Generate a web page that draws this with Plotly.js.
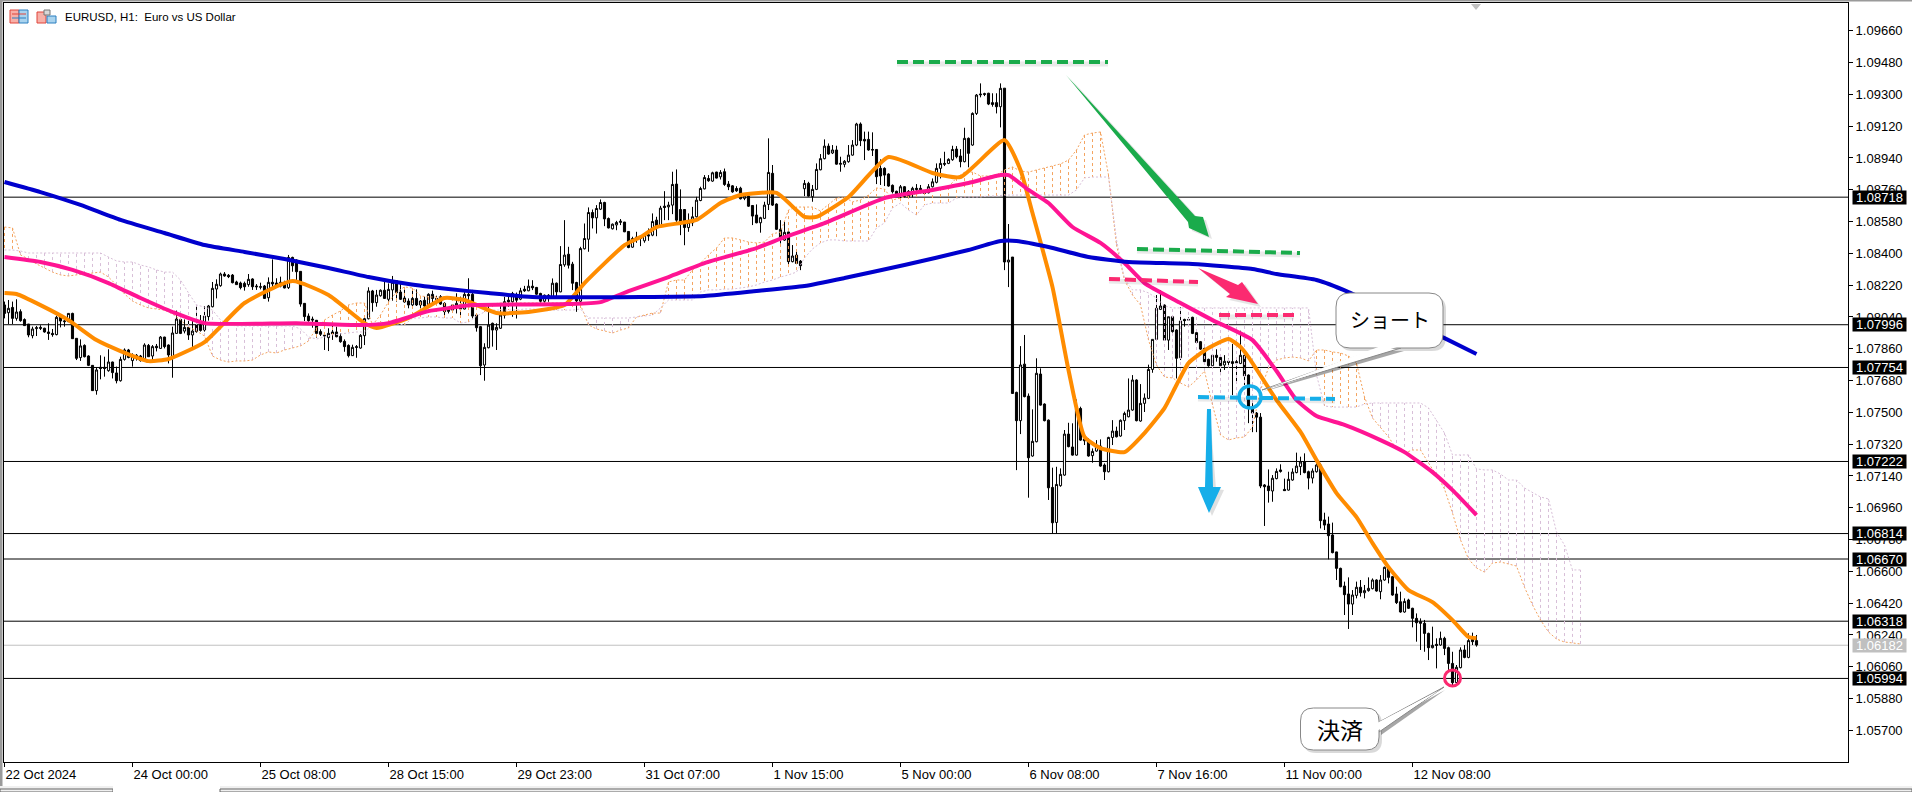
<!DOCTYPE html>
<html><head><meta charset="utf-8">
<script src="https://cdn.plot.ly/plotly-3.0.1.min.js"></script>
<style>html,body{margin:0;padding:0;background:#fff;overflow:hidden}#c{width:1912px;height:792px}</style>
</head><body><div id="c"></div>
<script>
// All prices in points (1e-5). Bar index = hours of trading since the left edge.
const highs=[108127,108136,108127,108140,108083,108032,108000,107985,107989,107993,
107979,108004,107972,108047,108051,108032,108060,108064,107919,107913,
107885,107823,107768,107755,107823,107815,107857,107787,107759,107815,
107862,107859,107834,107830,107825,107891,107887,107881,107887,107932,
107928,107885,107985,108076,108051,108026,108032,108034,108108,108051,
108102,108108,108238,108253,108291,108294,108283,108283,108245,108240,
108240,108283,108259,108226,108234,108221,108264,108366,108259,108268,
108245,108391,108381,108366,108298,108117,108060,108042,108023,107970,
107938,107976,108013,107985,107947,107913,107885,107883,107881,107943,
108042,108208,108193,108193,108196,108253,108230,108272,108249,108234,
108208,108145,108193,108196,108136,108155,108174,108189,108160,108164,
108123,108089,108108,108174,108155,108196,108259,108193,108057,107989,
107891,108117,108008,108004,108108,108154,108154,108182,108178,108205,
108216,108252,108248,108210,108177,108167,108169,108258,108235,108441,
108588,108437,108352,108239,108437,108569,108660,108648,108673,108705,
108692,108603,108569,108584,108594,108578,108526,108494,108522,108497,
108512,108541,108626,108607,108669,108752,108692,108862,108875,108762,
108650,108626,108663,108720,108777,108843,108843,108862,108862,108871,
108880,108809,108786,108780,108777,108735,108729,108673,108677,108607,
108692,109051,108900,108683,108588,108579,108522,108447,108409,108362,
108815,108805,108787,108909,108962,109045,109022,109013,109009,108947,
108928,109013,109041,109139,109141,109089,109089,109085,108990,108932,
108887,108853,108790,108755,108787,108781,108758,108777,108792,108787,
108758,108792,108824,108909,108938,108975,108938,109009,109007,108990,
109111,109056,109198,109302,109362,109309,109309,109306,109306,109362,
109335,108566,108379,107617,107875,107938,107607,107517,107806,107749,
107551,107460,107187,107192,107183,107400,107441,107438,107573,107532,
107362,107353,107296,107343,107347,107211,107362,107456,107419,107460,
107504,107692,107711,107687,107660,107607,107770,107913,108164,108192,
108111,108041,108045,107970,108094,108030,108038,108041,107953,107904,
107866,107804,107824,107857,107815,107824,107804,107887,107796,107962,
107826,107715,107552,107502,107496,107094,107177,107145,107183,107206,
107125,107164,107183,107272,107249,107268,107170,107183,107211,107211,
106932,106910,106876,106711,106621,106542,106566,106494,106542,106551,
106523,106566,106560,106555,106579,106627,106627,106574,106513,106485,
106447,106445,106394,106362,106334,106325,106253,106287,106221,106259,
106230,106174,106145,106070,106170,106183,106249,106253,106240];
const bodyTops=[108108,108089,108094,108068,108070,108025,108000,107972,107979,107981,
107976,107955,107947,108038,108045,108017,108060,108060,107919,107876,
107879,107819,107766,107740,107755,107755,107785,107785,107723,107800,
107853,107853,107819,107823,107819,107881,107879,107872,107874,107926,
107926,107881,107949,108028,108026,107981,107981,107960,107994,107994,
108045,108102,108202,108225,108283,108283,108276,108277,108238,108232,
108230,108253,108255,108215,108211,108215,108236,108236,108232,108236,
108234,108377,108377,108362,108298,108117,108045,108028,108021,107957,
107936,107947,107955,107955,107930,107902,107879,107868,107872,107936,
108030,108187,108187,108164,108191,108191,108196,108236,108245,108181,
108147,108130,108145,108145,108130,108134,108168,108168,108145,108155,
108117,108081,108108,108117,108108,108168,108168,108168,108051,107985,
107868,107994,108004,107981,108051,108126,108135,108173,108167,108188,
108197,108214,108214,108207,108173,108163,108163,108231,108231,108337,
108390,108395,108339,108235,108427,108484,108631,108631,108654,108688,
108688,108597,108565,108575,108582,108577,108524,108484,108492,108490,
108509,108505,108580,108588,108656,108667,108673,108790,108792,108648,
108648,108575,108607,108701,108767,108829,108824,108856,108860,108858,
108862,108792,108782,108767,108769,108724,108724,108671,108617,108602,
108673,108858,108853,108679,108536,108519,108521,108385,108390,108356,
108796,108796,108762,108875,108936,109007,109007,108985,108985,108909,
108921,108956,109013,109132,109132,109045,109045,108988,108988,108881,
108881,108849,108785,108751,108777,108777,108751,108768,108768,108768,
108749,108777,108805,108881,108909,108909,108932,108988,108990,108951,
109051,109051,109192,109296,109302,109304,109306,109253,109253,109334,
109335,108362,108379,107613,107768,107773,107592,107336,107721,107717,
107547,107456,107075,107092,107149,107377,107377,107304,107522,107522,
107349,107343,107279,107309,107309,107202,107358,107394,107394,107455,
107494,107513,107683,107683,107551,107581,107743,107913,108089,108102,
108107,108041,108041,107966,108017,108026,108026,108038,107951,107900,
107862,107800,107823,107823,107811,107789,107789,107787,107787,107823,
107823,107711,107530,107496,107473,107089,107083,107127,107166,107174,
107064,107121,107162,107196,107219,107219,107164,107168,107202,107202,
106891,106868,106806,106710,106617,106517,106472,106466,106510,106510,
106491,106504,106551,106551,106551,106623,106623,106570,106472,106428,
106430,106438,106391,106334,106315,106306,106249,106181,106187,106221,
106221,106168,106079,106057,106155,106155,106208,106215,106208];
const bodyBottoms=[108060,108064,108032,108032,108019,107991,107938,107934,107974,107976,
107955,107947,107940,107940,108017,108013,108013,107917,107806,107810,
107815,107766,107623,107623,107748,107748,107736,107725,107679,107679,
107800,107811,107793,107815,107793,107793,107815,107819,107866,107862,
107872,107825,107815,107947,107947,107960,107938,107938,107957,107964,
107966,108042,108098,108198,108217,108272,108268,108234,108223,108206,
108211,108223,108211,108211,108208,108145,108149,108227,108215,108215,
108204,108206,108330,108296,108113,108042,108019,108023,107947,107942,
107932,107923,107945,107928,107900,107872,107821,107821,107868,107864,
107934,108030,108121,108121,108160,108145,108140,108193,108177,108140,
108125,108108,108108,108108,108108,108102,108111,108145,108140,108113,
108070,108072,108079,108104,108085,108085,108160,108045,107979,107764,
107768,107866,107966,107966,107976,108050,108126,108126,108135,108141,
108188,108188,108205,108169,108129,108129,108154,108150,108182,108182,
108335,108333,108231,108131,108129,108426,108480,108601,108601,108650,
108595,108544,108539,108561,108575,108522,108433,108435,108480,108484,
108471,108499,108503,108554,108554,108660,108663,108673,108588,108573,
108546,108546,108573,108607,108699,108765,108811,108809,108826,108833,
108790,108777,108748,108754,108709,108711,108667,108611,108573,108573,
108598,108677,108673,108536,108479,108475,108353,108353,108343,108330,
108766,108724,108721,108762,108873,108936,108962,108968,108905,108904,
108904,108919,108956,109013,109038,109036,108985,108985,108834,108838,
108843,108781,108749,108730,108730,108721,108721,108745,108762,108745,
108739,108743,108777,108802,108881,108905,108909,108930,108947,108919,
108919,108966,109013,109192,109298,109300,109245,109243,109230,109230,
108351,108351,107607,107453,107453,107589,107243,107253,107334,107541,
107453,107073,106875,106877,107085,107145,107306,107258,107258,107343,
107339,107253,107255,107281,107196,107164,107164,107358,107362,107366,
107453,107475,107513,107453,107451,107551,107579,107743,107913,108083,
107909,107909,107957,107806,107809,108019,108023,107947,107896,107858,
107787,107764,107764,107811,107764,107768,107783,107777,107781,107777,
107707,107530,107496,107473,107083,107079,107057,107055,107125,107166,
107057,107060,107117,107159,107193,107159,107128,107128,107164,106887,
106862,106802,106706,106617,106513,106468,106415,106415,106464,106479,
106479,106491,106502,106489,106485,106551,106566,106466,106423,106370,
106370,106391,106334,106309,106306,106249,106168,106168,106181,106183,
106164,106079,105970,105970,106055,106113,106113,106202,106183];
const lows=[108032,108000,108000,108019,108013,107989,107925,107919,107932,107966,
107951,107910,107928,107936,107981,107985,108013,107917,107796,107791,
107811,107762,107621,107600,107687,107702,107730,107692,107664,107674,
107793,107806,107759,107793,107787,107787,107815,107796,107845,107860,
107862,107777,107696,107947,107943,107947,107910,107868,107951,107957,
107957,108019,108094,108145,108211,108268,108260,108230,108221,108196,
108189,108211,108193,108193,108196,108142,108127,108208,108208,108208,
108202,108198,108296,108245,108098,108017,108013,107979,107923,107932,
107853,107847,107910,107925,107894,107843,107811,107819,107809,107860,
107881,108026,108070,108098,108155,108142,108127,108132,108127,108136,
108121,108089,108098,108102,108070,108098,108108,108108,108108,108108,
108051,108060,108076,108060,108047,108083,108117,108032,107957,107711,
107679,107862,107872,107853,107972,108031,108097,108041,108031,108135,
108182,108186,108192,108165,108120,108116,108126,108146,108154,108180,
108324,108314,108192,108069,108097,108422,108409,108541,108512,108645,
108554,108541,108535,108531,108560,108520,108429,108431,108460,108441,
108460,108471,108497,108497,108550,108588,108588,108622,108578,108503,
108446,108522,108554,108603,108695,108762,108805,108805,108824,108818,
108782,108758,108743,108748,108705,108701,108663,108560,108570,108517,
108594,108645,108668,108532,108456,108471,108328,108349,108339,108305,
108724,108721,108692,108758,108870,108932,108958,108962,108902,108862,
108887,108913,108953,109007,109007,108928,108981,108951,108792,108787,
108781,108777,108739,108726,108711,108717,108717,108717,108739,108739,
108730,108739,108773,108796,108824,108894,108905,108924,108938,108887,
108915,108887,109009,109183,109283,109290,109239,109230,109192,109113,
108305,108209,107604,107173,107377,107585,107017,107249,107330,107538,
107449,107004,106815,106815,107079,107141,107302,107255,107255,107339,
107315,107249,107215,107277,107192,107117,107160,107315,107358,107362,
107400,107472,107509,107449,107447,107502,107575,107724,107909,108079,
107906,107853,107951,107692,107796,107985,108019,107943,107890,107853,
107781,107758,107755,107787,107711,107740,107762,107598,107664,107773,
107655,107439,107388,107388,107071,106857,106989,106994,107121,107159,
107055,107057,107113,107155,107145,107155,107064,107098,107159,106843,
106834,106668,106702,106551,106510,106353,106274,106353,106447,106457,
106447,106485,106498,106485,106442,106547,106532,106462,106415,106366,
106366,106387,106283,106202,106155,106145,106098,106164,106051,106179,
106126,106038,105947,105966,106051,106108,106108,106183,106174];
const upBars=[1,3,7,8,13,15,16,19,23,26,29,30,32,35,37,39,42,43,45,47,50,51,52,53,54,61,64,66,69,71,80,81,87,89,90,91,93,94,96,97,102,104,106,112,113,115,120,121,123,124,127,129,131,135,137,139,140,144,145,146,148,149,152,153,154,157,160,162,164,166,167,171,172,173,174,175,177,179,185,189,190,191,195,197,200,202,203,204,205,207,209,210,211,212,213,224,227,231,232,233,234,236,237,240,242,243,249,251,254,257,258,263,264,265,268,272,273,276,277,279,280,281,282,284,285,286,287,288,289,291,294,302,305,309,317,318,321,322,323,324,327,328,337,338,340,341,342,344,345,350,357,359,363,364,366];

const slowBars=[0,9,19,29,40,50,60,70,81,91,101,111,121,132,159,175,188,200,210,225,241,249,253,261,271,281,297,312,318,328,336,360,368];
const slowMA=[108804,108747,108674,108589,108515,108447,108408,108368,108317,108266,108226,108198,108175,108153,108153,108159,108187,108215,108260,108334,108419,108470,108470,108436,108379,108351,108340,108311,108283,108249,108181,107920,107830];
const midBars=[0,9,17,26,34,42,50,73,89,96,106,111,117,141,149,156,166,175,188,195,205,220,232,241,249,251,256,261,267,274,280,285,294,302,312,318,323,328,335,344,350,357,362,368];
const midMA=[108379,108351,108306,108232,108147,108068,108005,108005,107994,108005,108073,108090,108107,108113,108124,108186,108266,108345,108430,108492,108571,108713,108759,108798,108843,108843,108759,108685,108549,108459,108345,108232,108119,108022,107909,107734,107570,107479,107429,107343,107275,107162,107060,106919];
const fastBars=[0,3,9,16,23,29,36,41,50,60,72,81,90,93,101,110,115,123,131,140,145,155,159,163,173,179,184,193,200,203,211,221,232,239,250,254,257,262,266,270,274,280,285,290,293,296,301,306,309,311,318,324,328,333,338,342,346,351,357,362,366,368];
const fastMA=[108176,108170,108107,108022,107909,107847,107790,107802,107898,108119,108243,108164,108005,107977,108034,108147,108136,108062,108068,108107,108232,108447,108492,108549,108589,108685,108730,108742,108606,108606,108719,108945,108855,108832,109041,108872,108628,108209,107740,107361,107298,107275,107383,107524,107655,107779,107864,107915,107870,107813,107570,107389,107230,107043,106907,106760,106624,106494,106426,106324,106228,106222];

// Ichimoku spans, one reading every second bar
const spanA=[108549,108544,108391,108368,108340,108317,108294,108278,108272,108278,108283,108289,108294,108266,108221,108170,108130,108108,108091,108085,108079,108057,108023,107983,107961,107932,107819,107796,107785,107791,107791,107796,107825,107842,107836,107853,107864,107876,107904,107978,108023,108051,108074,108108,108119,108119,107995,108051,108125,108181,108210,108204,108159,108153,108153,108153,108147,108119,108096,108096,108108,108113,108119,108119,108119,108119,108119,108119,108119,108119,108119,108113,108108,107995,107972,107961,107949,107966,107978,108040,108051,108062,108062,108238,108249,108249,108306,108345,108391,108430,108487,108487,108476,108464,108459,108464,108510,108521,108645,108662,108662,108662,108640,108674,108713,108719,108691,108702,108730,108770,108764,108702,108713,108725,108736,108747,108764,108770,108776,108827,108860,108860,108838,108838,108844,108872,108889,108866,108860,108872,108883,108894,108906,108928,108985,109070,109081,109087,108844,108447,108249,108164,108108,107910,107768,107700,107695,107666,107644,107683,107734,107542,107372,107344,107355,107361,107417,107627,107751,107796,107808,107813,107808,107791,107853,107853,107842,107836,107819,107779,107587,107468,107412,107361,107293,107270,107287,107287,107213,107146,107066,106930,106778,106670,106619,106596,106647,106653,106642,106630,106510,106410,106325,106257,106217,106200,106195,106189];
const spanB=[108419,108419,108413,108402,108402,108402,108402,108402,108402,108402,108402,108402,108402,108379,108357,108351,108351,108334,108323,108306,108294,108294,108249,108176,108108,108096,108079,108023,107995,107989,107989,107989,107989,107989,107989,107989,107989,107972,107927,107915,107927,107938,107944,107949,107955,107955,107995,108011,108006,108000,107995,108034,108034,108040,108040,108034,108034,108006,108011,108045,108068,108079,108079,108079,108079,108085,108085,108079,108079,108079,108079,108079,108085,108034,108034,108034,108034,108034,108034,108040,108045,108051,108091,108136,108136,108136,108136,108181,108193,108193,108198,108198,108204,108210,108221,108238,108249,108266,108278,108294,108374,108425,108459,108476,108476,108470,108470,108470,108470,108544,108572,108657,108685,108645,108617,108674,108685,108685,108685,108713,108719,108719,108719,108725,108725,108730,108730,108730,108730,108730,108730,108730,108730,108730,108759,108827,108832,108832,108832,108476,108255,108193,108193,108176,108147,108102,108091,108091,108091,108091,108091,108091,108091,108091,108091,108091,108091,108091,108091,108091,108091,108091,108091,108091,107712,107536,107530,107530,107530,107530,107547,107553,107553,107553,107553,107553,107553,107553,107525,107457,107383,107259,107259,107259,107180,107174,107174,107151,107117,107117,107072,107044,107021,107010,106823,106749,106608,106608];

const levels=[1.08718,1.07996,1.07754,1.07222,1.06814,1.0667,1.06318,1.05994];
const levelLabels=['1.08718','1.07996','1.07754','1.07222','1.06814','1.06670','1.06318','1.05994'];
const lastPrice=1.06182, lastLabel='1.06182';
const priceTicks=[1.0966,1.0948,1.093,1.0912,1.0894,1.0876,1.0858,1.084,1.0822,1.0804,1.0786,1.0768,1.075,1.0732,1.0714,1.0696,1.0678,1.066,1.0642,1.0624,1.0606,1.0588,1.057];
const priceTickText=['1.09660','1.09480','1.09300','1.09120','1.08940','1.08760','1.08580','1.08400','1.08220','1.08040','1.07860','1.07680','1.07500','1.07320','1.07140','1.06960','1.06780','1.06600','1.06420','1.06240','1.06060','1.05880','1.05700'];
const timeTicks=[0,32,64,96,128,160,192,224,256,288,320,352];
const timeTickText=['22 Oct 2024','24 Oct 00:00','25 Oct 08:00','28 Oct 15:00','29 Oct 23:00','31 Oct 07:00','1 Nov 15:00','5 Nov 00:00','6 Nov 08:00','7 Nov 16:00','11 Nov 00:00','12 Nov 08:00'];

const P=v=>v/1e5;
const FONT='"Liberation Sans",Arial,sans-serif';
const idx=highs.map((_,i)=>i);
const up=new Set(upBars);
const opens=idx.map(i=>P(up.has(i)?bodyBottoms[i]:bodyTops[i]));
const closes=idx.map(i=>P(up.has(i)?bodyTops[i]:bodyBottoms[i]));

// Hatch columns of the cloud
const hx={o:[],t:[]},hy={o:[],t:[]};
spanA.forEach((a,m)=>{const b=spanB[m];const key=a>=b?'o':'t';hx[key].push(m*2,m*2,null);hy[key].push(P(a),P(b),null);});
const spanX=spanA.map((_,m)=>m*2);
const SANDY='#f4a460',THISTLE='#d8bfd8';

const traces=[
 {type:'scatter',mode:'lines',x:hx.o,y:hy.o,line:{color:SANDY,width:1,dash:'3px,3px'},hoverinfo:'skip',connectgaps:false},
 {type:'scatter',mode:'lines',x:hx.t,y:hy.t,line:{color:THISTLE,width:1,dash:'3px,3px'},hoverinfo:'skip',connectgaps:false},
 {type:'scatter',mode:'lines',x:spanX,y:spanA.map(P),line:{color:SANDY,width:1,dash:'2px,2px'},hoverinfo:'skip'},
 {type:'scatter',mode:'lines',x:spanX,y:spanB.map(P),line:{color:THISTLE,width:1,dash:'2px,2px'},hoverinfo:'skip'},
 {type:'scatter',mode:'lines',x:fastBars,y:fastMA.map(P),line:{color:'#ff8c00',width:4,shape:'spline',smoothing:0.5},hoverinfo:'skip'},
 {type:'scatter',mode:'lines',x:midBars,y:midMA.map(P),line:{color:'#ff1493',width:4,shape:'spline',smoothing:0.5},hoverinfo:'skip'},
 {type:'scatter',mode:'lines',x:slowBars,y:slowMA.map(P),line:{color:'#0000cd',width:4,shape:'spline',smoothing:0.5},hoverinfo:'skip'},
 {type:'candlestick',x:idx,open:opens,high:highs.map(P),low:lows.map(P),close:closes,whiskerwidth:0,
  increasing:{line:{color:'#000',width:1},fillcolor:'#fff'},
  decreasing:{line:{color:'#000',width:1},fillcolor:'#000'},hoverinfo:'skip'}
];

// Pixel helpers for the hand-drawn overlay (page pixels -> plot paper)
const PL=4,PT=3,PW=1844,PH=759;
const X=p=>(p-PL)/PW, Y=p=>1-(p-PT)/PH;
const poly=pts=>'M '+pts.map(q=>X(q[0])+' '+Y(q[1])).join(' L ')+' Z';
const seg=(x0,y0,x1,y1,color,width,dash)=>({type:'line',xref:'paper',yref:'paper',x0:X(x0),y0:Y(y0),x1:X(x1),y1:Y(y1),line:{color,width,dash:dash||'solid'},layer:'above'});
const fillPoly=(pts,fill,lineColor,opacity)=>({type:'path',xref:'paper',yref:'paper',path:poly(pts),fillcolor:fill,opacity:opacity==null?1:opacity,line:{color:lineColor||fill,width:lineColor?1:0},layer:'above'});
const rrect=(x0,y0,x1,y1,r)=>{const q=(a,b)=>X(a)+' '+Y(b);return 'M '+q(x0+r,y0)+' L '+q(x1-r,y0)+' Q '+q(x1,y0)+' '+q(x1,y0+r)+' L '+q(x1,y1-r)+' Q '+q(x1,y1)+' '+q(x1-r,y1)+' L '+q(x0+r,y1)+' Q '+q(x0,y1)+' '+q(x0,y1-r)+' L '+q(x0,y0+r)+' Q '+q(x0,y0)+' '+q(x0+r,y0)+' Z';};
const rr=(x0,y0,x1,y1,r,fill,lc,op)=>({type:'path',xref:'paper',yref:'paper',path:rrect(x0,y0,x1,y1,r),fillcolor:fill,opacity:op==null?1:op,line:{color:lc||fill,width:lc?1:0},layer:'above'});
const circle=(cx,cy,r,color,w)=>({type:'circle',xref:'paper',yref:'paper',x0:X(cx-r),x1:X(cx+r),y0:Y(cy-r),y1:Y(cy+r),line:{color,width:w},fillcolor:'rgba(0,0,0,0)',layer:'above'});
const box=(x0,y0,x1,y1,fill,lc)=>({type:'rect',xref:'paper',yref:'paper',x0:X(x0),x1:X(x1),y0:Y(y0),y1:Y(y1),fillcolor:fill,line:{color:lc||fill,width:lc?1:0},layer:'above'});

const GREEN='#1aab4b',PINK='#fb2a70',CYAN='#16aee9';
const DASH='11px,5px';
const shapes=[];
levels.forEach(v=>shapes.push({type:'line',xref:'paper',yref:'y',x0:0,x1:1,y0:v,y1:v,line:{color:'#000',width:1},layer:'below'}));
shapes.push({type:'line',xref:'paper',yref:'y',x0:0,x1:1,y0:lastPrice,y1:lastPrice,line:{color:'#c0c0c0',width:1},layer:'below'});
// soft shadows then strokes
[[897,62,1108,62,GREEN],[1137,249,1300,253,GREEN],[1109,279,1198,282,PINK],[1219,315,1294,315,PINK],[1198,397,1335,399,CYAN]].forEach(s=>{
  shapes.push(Object.assign(seg(s[0],s[1]+2,s[2],s[3]+2,'#000',5),{opacity:0.08}));
  shapes.push(seg(s[0],s[1],s[2],s[3],s[4],4,DASH));
});
// arrows
shapes.push(fillPoly([[1070,78],[1199,219],[1206,220],[1212,239],[1192,231],[1191,225]],'#000',null,0.10));
shapes.push(fillPoly([[1066,75],[1195,216],[1203,217],[1209,237],[1189,228],[1188,222]],GREEN));
shapes.push(fillPoly([[1201,271],[1242,288],[1245,284],[1261,307],[1229,300],[1233,297]],'#000',null,0.10));
shapes.push(fillPoly([[1198,268],[1238,285],[1242,282],[1258,304],[1226,297],[1230,294]],PINK));
shapes.push(fillPoly([[1210,412],[1216,489],[1224,490],[1212,516],[1201,490],[1208,489]],'#000',null,0.12));
shapes.push(fillPoly([[1207,409],[1211,409],[1213,487],[1221,487],[1209,513],[1198,487],[1205,487]],CYAN));
shapes.push(circle(1250,397,11,CYAN,3.5));
shapes.push(circle(1452.5,678,8,PINK,3));
// callouts
shapes.push(rr(1339,296,1446,351,14,'#000',null,0.15));
shapes.push(fillPoly([[1262,392],[1382,351],[1404,351]],'#000',null,0.35));
shapes.push(fillPoly([[1262,390],[1380,348],[1401,348]],'#fff','#888'));
shapes.push(rr(1336,293,1443,348,14,'#fff','#888'));
shapes.push(fillPoly([[1381,346],[1400,346],[1266,389]],'#fff'));
shapes.push(rr(1303,711,1382,753,13,'#000',null,0.15));
shapes.push(fillPoly([[1445,690],[1381,725],[1381,735]],'#000',null,0.35));
shapes.push(fillPoly([[1444,687],[1379,722],[1379,732]],'#fff','#888'));
shapes.push(rr(1300.5,708,1379,750,13,'#fff','#888'));
shapes.push(fillPoly([[1377,723],[1377,731],[1440,690]],'#fff'));
// window chrome: top marker, outer stripes, tabs, icons
shapes.push(fillPoly([[1471,4],[1481,4],[1476,10]],'#c0c0c0'));
shapes.push(box(0,0,1912,1.5,'#9a9a9a'));
shapes.push(box(0,0,2.5,786,'#9a9a9a'));
shapes.push(box(0,786,1912,792,'#f0f0f0'));
shapes.push(box(0,789,113,792,'#f0f0f0','#666'));
shapes.push(box(113,786,220,792,'#fff'));
shapes.push(box(220,789,1912,792,'#f0f0f0','#666'));
shapes.push(box(10,10,19,23,'#f7b0a8','#e0443a'));
shapes.push(box(19,10,28,23,'#a9d3ee','#2a7fc0'));
shapes.push(seg(12,14,26,14,'#e0443a',1));shapes.push(seg(12,18,26,18,'#2a7fc0',1));
shapes.push(box(37,12,46,23,'#f7b0a8','#e0443a'));
shapes.push(box(47,16,56,23,'#a9d3ee','#2a7fc0'));
shapes.push(box(44,10,50,15,'#d8d8d8','#777'));

const annotations=[
 {xref:'paper',yref:'paper',x:X(63),y:Y(17.5),xanchor:'left',yanchor:'middle',showarrow:false,text:'EURUSD, H1:\u00a0\u00a0Euro vs US Dollar',font:{family:FONT,size:11.5,color:'#000'}},
 {xref:'paper',yref:'paper',x:X(1389.5),y:Y(319),xanchor:'center',yanchor:'middle',showarrow:false,text:'ショート',font:{family:'"Noto Sans CJK JP"',size:20,color:'#000'}},
 {xref:'paper',yref:'paper',x:X(1340),y:Y(728.5),xanchor:'center',yanchor:'middle',showarrow:false,text:'決済',font:{family:'"Noto Sans CJK JP"',size:23,color:'#000'}}
];
levels.forEach((v,i)=>annotations.push({xref:'paper',yref:'y',x:X(1852),y:v,xanchor:'left',yanchor:'middle',showarrow:false,text:levelLabels[i],bgcolor:'#000',font:{family:FONT,size:13,color:'#fff'},width:53,height:13,borderpad:0,align:'center'}));
annotations.push({xref:'paper',yref:'y',x:X(1852),y:lastPrice,xanchor:'left',yanchor:'middle',showarrow:false,text:lastLabel,bgcolor:'#c0c0c0',font:{family:FONT,size:13,color:'#fff'},width:53,height:13,borderpad:0,align:'center'});

const layout={
 width:1912,height:792,paper_bgcolor:'#fff',plot_bgcolor:'#fff',showlegend:false,dragmode:false,
 margin:{l:PL,r:1912-1848,t:PT,b:792-762,pad:0},boxgap:0.25,
 xaxis:{type:'linear',range:[-0.125,460.875],tickmode:'array',tickvals:timeTicks,ticktext:timeTickText,ticks:'outside',ticklen:4,tickcolor:'#000',tickwidth:1,ticklabelposition:'outside right',showgrid:false,zeroline:false,showline:true,linecolor:'#000',linewidth:1,mirror:true,rangeslider:{visible:false},tickfont:{family:FONT,size:13,color:'#000'},tickangle:0},
 yaxis:{type:'linear',side:'right',range:[1.05521,1.09817],tickmode:'array',tickvals:priceTicks,ticktext:priceTickText,ticks:'outside',ticklen:4,tickcolor:'#000',tickwidth:1,showgrid:false,zeroline:false,showline:true,linecolor:'#000',linewidth:1,mirror:true,tickfont:{family:FONT,size:13,color:'#000'}},
 shapes,annotations
};
Plotly.newPlot('c',traces,layout,{staticPlot:true,displayModeBar:false});
</script></body></html>
